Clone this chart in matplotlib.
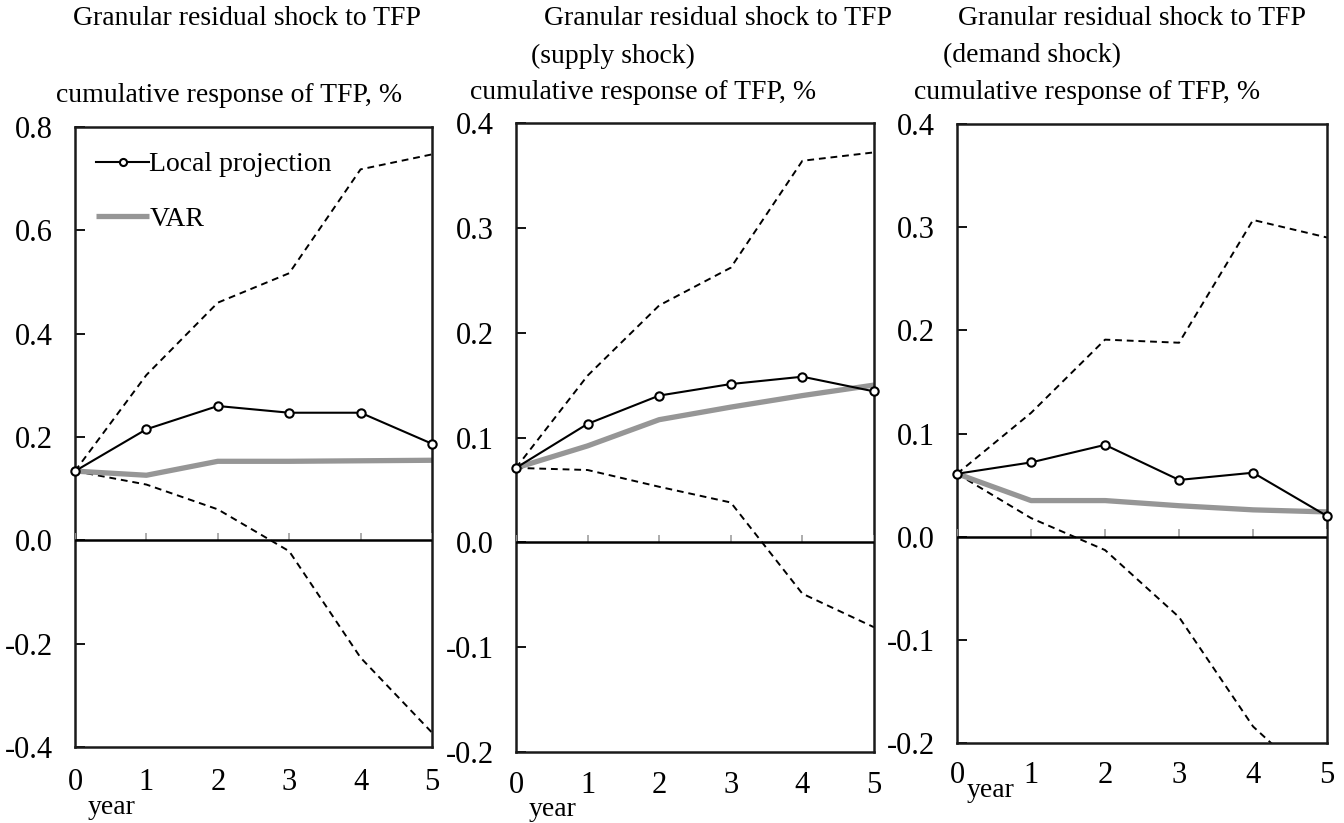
import matplotlib
matplotlib.use('Agg')
import matplotlib.pyplot as plt

plt.rcParams['font.family'] = ['Liberation Serif', 'DejaVu Serif']

# horizon in years
years = [0, 1, 2, 3, 4, 5]

# Granular residual shock to TFP
lp_all = [0.134, 0.215, 0.260, 0.247, 0.247, 0.187]
var_all = [0.134, 0.126, 0.153, 0.153, 0.154, 0.155]
up_all = [0.134, 0.320, 0.460, 0.517, 0.718, 0.747]
lo_all = [0.134, 0.108, 0.060, -0.021, -0.227, -0.372]

# supply shock
lp_sup = [0.071, 0.113, 0.140, 0.151, 0.158, 0.144]
var_sup = [0.071, 0.092, 0.117, 0.129, 0.140, 0.150]
up_sup = [0.071, 0.159, 0.226, 0.262, 0.364, 0.372]
lo_sup = [0.071, 0.069, 0.053, 0.038, -0.049, -0.081]

# demand shock
lp_dem = [0.061, 0.072, 0.089, 0.055, 0.062, 0.020]
var_dem = [0.061, 0.035, 0.035, 0.030, 0.026, 0.024]
up_dem = [0.061, 0.120, 0.191, 0.188, 0.307, 0.290]
lo_dem = [0.061, 0.018, -0.013, -0.078, -0.184, -0.250]

ticks_all = [-0.4, -0.2, 0.0, 0.2, 0.4, 0.6, 0.8]
ticks_sd = [-0.2, -0.1, 0.0, 0.1, 0.2, 0.3, 0.4]

fig = plt.figure(figsize=(13.44, 8.23), dpi=100)

panels = [
    dict(rect=[0.0558, 0.0923, 0.2656, 0.7534], lp=lp_all, var=var_all, up=up_all, lo=lo_all,
         yticks=ticks_all, title=["Granular residual shock to TFP"], tx=[0.054],
         ux=0.042, uy=0.116, yearx=0.0655, yeary=0.019, xpad=15, legend=True),
    dict(rect=[0.3839, 0.0863, 0.2664, 0.7642], lp=lp_sup, var=var_sup, up=up_sup, lo=lo_sup,
         yticks=ticks_sd, title=["Granular residual shock to TFP", "(supply shock)"], tx=[0.405, 0.395],
         ux=0.350, uy=0.112, yearx=0.393, yeary=0.017, xpad=14, legend=False),
    dict(rect=[0.7121, 0.0972, 0.2753, 0.7521], lp=lp_dem, var=var_dem, up=up_dem, lo=lo_dem,
         yticks=ticks_sd, title=["Granular residual shock to TFP", "(demand shock)"], tx=[0.713, 0.702],
         ux=0.680, uy=0.112, yearx=0.7195, yeary=0.039, xpad=13, legend=False),
]

for p in panels:
    ax = fig.add_axes(p['rect'])
    yt = p['yticks']
    ax.set_xlim(0, 5)
    ax.set_ylim(yt[0], yt[-1])

    ax.plot(years, p['up'], color='black', lw=1.4, ls=(0, (3.5, 2.5)))
    ax.plot(years, p['lo'], color='black', lw=1.4, ls=(0, (3.5, 2.5)))
    ax.plot(years, p['var'], color='#969696', lw=3.8, solid_capstyle='butt', label='VAR')
    ax.plot(years, p['lp'], color='black', lw=1.5, marker='o', ms=6, mfc='white', mec='black',
            mew=1.5, clip_on=False, zorder=5, label='Local projection')

    # zero line with small gray year ticks on it
    ax.axhline(0, color='black', lw=1.8, zorder=4)
    h = (yt[-1] - yt[0]) * 0.012
    ax.vlines(years, 0, h, color='#a0a0a0', lw=1.2, zorder=3)

    ax.set_xticks(years)
    ax.set_yticks(yt)
    ax.set_yticklabels(['%.1f' % v for v in yt])
    ax.tick_params(axis='x', length=0, pad=p['xpad'], labelsize=22)
    ax.tick_params(axis='y', direction='in', length=7, width=1.3, pad=16, labelsize=22)
    for lab in ax.get_xticklabels() + ax.get_yticklabels():
        lab.set_fontfamily('Liberation Serif')
    for s in ax.spines.values():
        s.set_linewidth(1.8)
        s.set_color('#1a1a1a')

    for i, line in enumerate(p['title']):
        fig.text(p['tx'][i], 1 - (0.023 + 0.045 * i), line, fontsize=20, va='center', ha='left')
    fig.text(p['ux'], 1 - p['uy'], 'cumulative response of TFP, %', fontsize=20, va='center', ha='left')
    fig.text(p['yearx'], p['yeary'], 'year', fontsize=20, va='center', ha='left')

    if p['legend']:
        hs, ls = ax.get_legend_handles_labels()
        ax.legend(hs[::-1], ls[::-1], loc='upper left', frameon=False, fontsize=20,
                  handlelength=1.9, handletextpad=0.0, labelspacing=1.05, markerscale=0.85,
                  bbox_to_anchor=(-0.01, 1.0))

fig.savefig('out.png', dpi=100)
